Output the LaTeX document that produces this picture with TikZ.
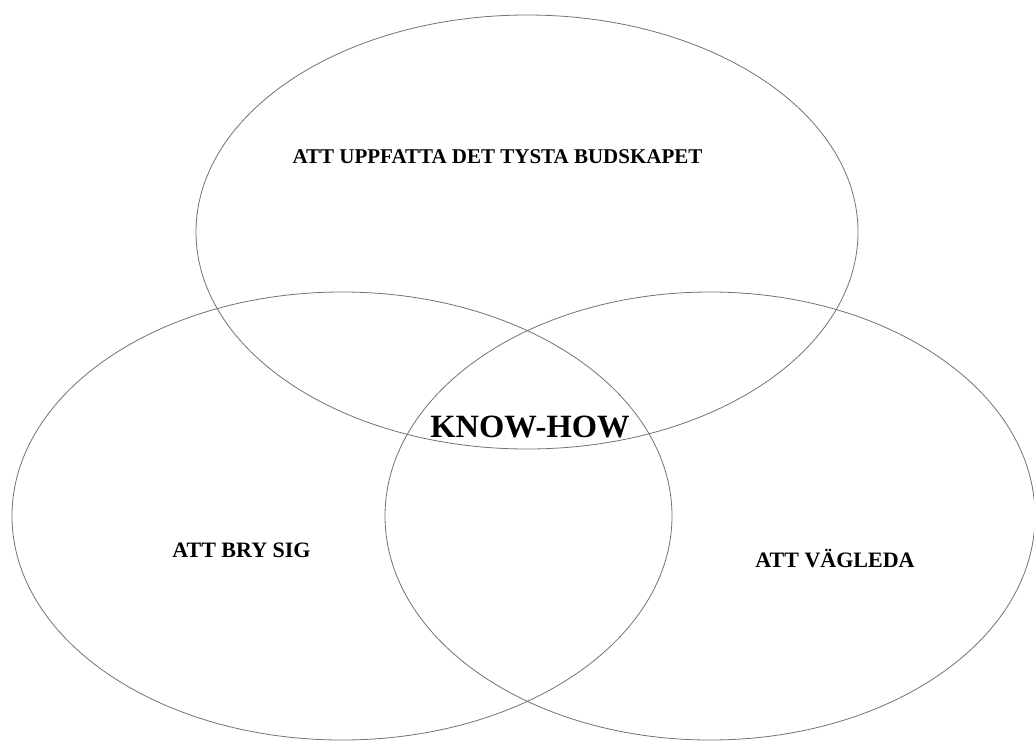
\documentclass[tikz,border=0pt]{standalone}
\usepackage{fontspec}
\setmainfont{Liberation Serif}
\tikzset{
  ring/.style={draw=black!55, line width=0.8pt},
  lbl/.style={font=\bfseries\fontsize{21}{24}\selectfont, anchor=base, inner sep=0pt},
  biglbl/.style={font=\bfseries\fontsize{32.5}{36}\selectfont, anchor=base, inner sep=0pt}
}
\begin{document}
\begin{tikzpicture}[x=1pt,y=-1pt]
\useasboundingbox (0,0) rectangle (1034,740);
\fill[white] (0,0) rectangle (1034,740);
\begin{scope}
\clip (0,0) rectangle (1034,740);
\draw[ring] (527,232) ellipse [x radius=331, y radius=217];
\draw[ring] (342,516) ellipse [x radius=330, y radius=224];
\draw[ring] (710,516) ellipse [x radius=325, y radius=224];
\end{scope}
\node[lbl] (top) at (497.5,163) {ATT UPPFATTA DET TYSTA BUDSKAPET};
\node[biglbl] (kh) at (530,437) {KNOW-HOW};
\node[lbl, font=\bfseries\fontsize{22}{25}\selectfont] (bry) at (241.5,557) {ATT BRY SIG};
\node[lbl, font=\bfseries\fontsize{22}{25}\selectfont] (vag) at (835,567) {ATT VÄGLEDA};
\end{tikzpicture}
\end{document}
